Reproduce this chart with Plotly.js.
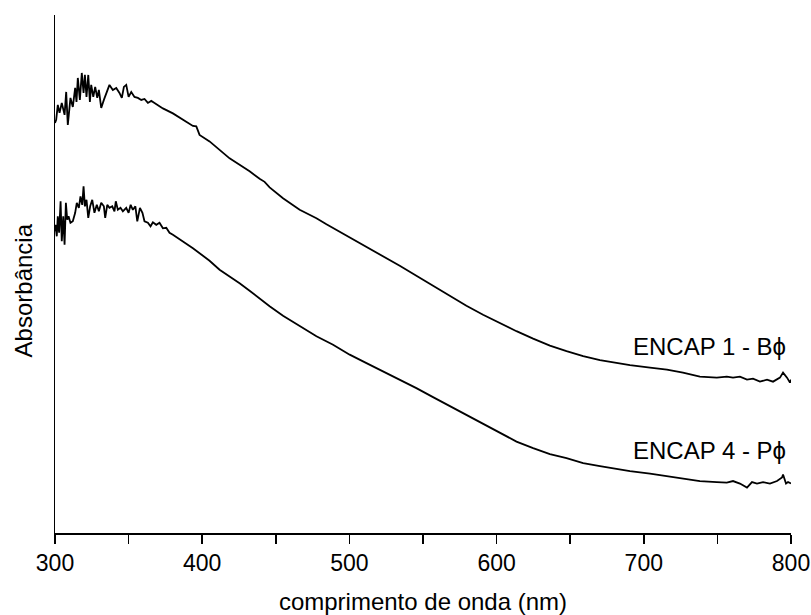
<!DOCTYPE html>
<html>
<head>
<meta charset="utf-8">
<script src="https://cdn.plot.ly/plotly-3.0.1.min.js"></script>
<style>
  html, body { margin: 0; padding: 0; background: #ffffff; }
  #chart { width: 811px; height: 615px; }
</style>
</head>
<body>
<div id="chart"></div>
<script>
// UV-Vis absorption spectra (arbitrary absorbance units) of two encapsulated samples
const wavelengthB = [
  300.0, 300.8, 301.9, 303.1, 304.6, 306.5, 307.6, 308.7, 310.5, 312.1,
  313.7, 314.6, 315.5, 316.9, 318.2, 319.4, 320.3, 321.4, 322.6, 323.7,
  324.6, 326.0, 327.3, 328.7, 329.8, 331.4, 333.2, 335.0, 337.0, 339.3,
  341.6, 343.8, 345.4, 346.8, 348.4, 350.0, 351.8, 354.0, 356.3, 358.6,
  360.8, 363.1, 365.4, 367.6, 373.3, 380.1, 386.9, 393.7, 396.0, 398.2,
  405.0, 411.8, 418.6, 425.4, 432.2, 439.0, 442.4, 445.8, 454.9, 466.2,
  477.6, 484.4, 493.4, 500.2, 511.6, 522.8, 534.2, 545.5, 556.8, 568.2,
  579.5, 590.8, 602.2, 613.5, 624.8, 636.2, 647.5, 658.8, 670.2, 681.5,
  690.6, 704.2, 715.7, 726.6, 738.1, 749.6, 756.4, 760.6, 765.3, 770.1,
  774.2, 778.9, 783.7, 787.8, 792.5, 794.6, 797.3, 799.3, 800.0
];
const absorbanceB = [
  0.821, 0.827, 0.857, 0.841, 0.861, 0.837, 0.883, 0.817, 0.871, 0.853,
  0.891, 0.863, 0.911, 0.867, 0.921, 0.881, 0.917, 0.873, 0.917, 0.863,
  0.897, 0.873, 0.893, 0.871, 0.887, 0.851, 0.867, 0.883, 0.897, 0.887,
  0.891, 0.881, 0.871, 0.893, 0.897, 0.873, 0.883, 0.873, 0.871, 0.867,
  0.869, 0.861, 0.865, 0.861, 0.850, 0.840, 0.827, 0.815, 0.814, 0.797,
  0.784, 0.767, 0.750, 0.737, 0.724, 0.709, 0.703, 0.692, 0.670, 0.647,
  0.630, 0.618, 0.603, 0.592, 0.573, 0.555, 0.535, 0.515, 0.495, 0.475,
  0.455, 0.437, 0.420, 0.404, 0.389, 0.375, 0.364, 0.354, 0.346, 0.340,
  0.336, 0.331, 0.327, 0.321, 0.313, 0.311, 0.313, 0.311, 0.313, 0.307,
  0.309, 0.303, 0.307, 0.303, 0.311, 0.321, 0.311, 0.301, 0.307
];

const wavelengthP = [
  300.0, 300.3, 301.2, 301.9, 302.8, 303.8, 304.6, 305.6, 306.5, 307.4,
  308.3, 309.2, 310.5, 312.1, 313.7, 314.8, 316.2, 317.3, 318.5, 319.4,
  320.3, 321.4, 322.6, 323.9, 325.3, 326.8, 328.4, 329.8, 331.4, 333.2,
  334.1, 335.5, 337.0, 338.9, 340.4, 341.3, 342.7, 344.5, 346.1, 348.4,
  350.0, 351.4, 352.9, 354.6, 355.9, 357.7, 359.4, 360.8, 363.1, 364.9,
  366.5, 368.8, 371.0, 373.3, 375.6, 377.8, 380.1, 386.9, 393.7, 400.5,
  405.0, 411.8, 418.6, 425.4, 432.2, 439.0, 445.8, 454.9, 466.2, 477.6,
  488.9, 500.2, 511.6, 522.8, 534.2, 545.5, 556.8, 568.2, 579.5, 590.8,
  602.2, 613.5, 624.8, 636.2, 647.5, 658.8, 670.2, 681.5, 690.6, 704.2,
  715.7, 726.6, 738.1, 749.6, 756.4, 760.6, 765.3, 770.1, 773.5, 776.9,
  781.0, 785.7, 790.5, 793.9, 794.6, 796.6, 798.0, 800.0
];
const absorbanceP = [
  0.604, 0.617, 0.594, 0.634, 0.601, 0.664, 0.584, 0.634, 0.577, 0.661,
  0.627, 0.634, 0.621, 0.624, 0.641, 0.661, 0.651, 0.674, 0.657, 0.694,
  0.654, 0.667, 0.631, 0.654, 0.667, 0.641, 0.657, 0.644, 0.661, 0.654,
  0.631, 0.657, 0.651, 0.654, 0.644, 0.664, 0.647, 0.651, 0.644, 0.651,
  0.641, 0.657, 0.647, 0.654, 0.624, 0.651, 0.641, 0.624, 0.621, 0.614,
  0.622, 0.617, 0.621, 0.610, 0.611, 0.601, 0.597, 0.584, 0.570, 0.555,
  0.545, 0.527, 0.514, 0.500, 0.485, 0.469, 0.454, 0.435, 0.414, 0.394,
  0.377, 0.357, 0.340, 0.324, 0.307, 0.290, 0.272, 0.254, 0.236, 0.218,
  0.200, 0.183, 0.170, 0.158, 0.150, 0.140, 0.134, 0.128, 0.124, 0.119,
  0.114, 0.109, 0.104, 0.102, 0.101, 0.104, 0.099, 0.091, 0.102, 0.099,
  0.102, 0.099, 0.104, 0.111, 0.117, 0.099, 0.102, 0.099
];

const tickValues = [300, 350, 400, 450, 500, 550, 600, 650, 700, 750, 800];
const tickLabels = ['300', '', '400', '', '500', '', '600', '', '700', '', '800'];
const sampleLabels = ['ENCAP 1 - B\u03d5', 'ENCAP 4 - P\u03d5'];

const FONT = 'Arial, "Liberation Sans", sans-serif';
const lineStyle = { color: '#000000', width: 1.8 };

const traces = [
  { x: wavelengthB, y: absorbanceB, type: 'scatter', mode: 'lines', line: lineStyle, hoverinfo: 'skip' },
  { x: wavelengthP, y: absorbanceP, type: 'scatter', mode: 'lines', line: lineStyle, hoverinfo: 'skip' }
];

const layout = {
  width: 811,
  height: 615,
  margin: { l: 55, r: 20, t: 15, b: 82 },
  paper_bgcolor: '#ffffff',
  plot_bgcolor: '#ffffff',
  showlegend: false,
  font: { family: FONT, color: '#000000' },
  xaxis: {
    range: [300, 800],
    showgrid: false,
    zeroline: false,
    showline: true,
    linecolor: '#000000',
    linewidth: 1.5,
    ticks: 'outside',
    ticklen: 9,
    tickwidth: 1.5,
    tickcolor: '#000000',
    tickvals: tickValues,
    ticktext: tickLabels,
    tickfont: { family: FONT, size: 23, color: '#000000' },
    title: { text: 'comprimento de onda (nm)', font: { family: FONT, size: 24, color: '#000000' }, standoff: 19 }
  },
  yaxis: {
    range: [0, 1.037],
    showgrid: false,
    zeroline: false,
    showline: true,
    linecolor: '#000000',
    linewidth: 1.5,
    ticks: '',
    showticklabels: false
  },
  annotations: [
    { x: 691.2, y: 0.373, xref: 'x', yref: 'y', text: sampleLabels[0], showarrow: false,
      xanchor: 'left', yanchor: 'middle', font: { family: FONT, size: 24, color: '#000000' } },
    { x: 691.2, y: 0.165, xref: 'x', yref: 'y', text: sampleLabels[1], showarrow: false,
      xanchor: 'left', yanchor: 'middle', font: { family: FONT, size: 24, color: '#000000' } },
    { x: -0.043, y: 0.469, xref: 'paper', yref: 'paper', text: 'Absorbância', showarrow: false,
      textangle: -90, xanchor: 'center', yanchor: 'middle', font: { family: FONT, size: 24, color: '#000000' } }
  ]
};

Plotly.newPlot('chart', traces, layout, { staticPlot: true, displayModeBar: false });
</script>
</body>
</html>
